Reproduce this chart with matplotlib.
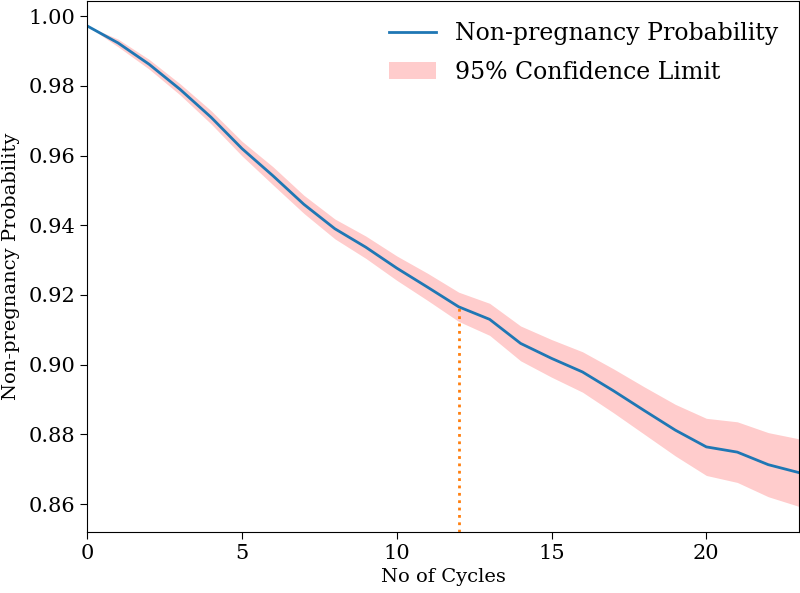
import matplotlib
matplotlib.use('Agg')
import matplotlib.pyplot as plt

plt.rcParams['font.family'] = 'DejaVu Serif'

cycles = list(range(24))
prob = [0.9972, 0.9923, 0.9862, 0.9790, 0.9710, 0.9620, 0.9542, 0.9460, 0.9390, 0.9337,
        0.9277, 0.9222, 0.9166, 0.9130, 0.9061, 0.9018, 0.8979, 0.8925, 0.8868, 0.8812,
        0.8764, 0.8749, 0.8713, 0.8690]
upper = [0.9972, 0.9934, 0.9876, 0.9806, 0.9729, 0.9641, 0.9568, 0.9486, 0.9418, 0.9369,
         0.9312, 0.9262, 0.9208, 0.9176, 0.9111, 0.9072, 0.9037, 0.8988, 0.8936, 0.8886,
         0.8846, 0.8836, 0.8805, 0.8787]
lower = [0.9972, 0.9912, 0.9848, 0.9774, 0.9691, 0.9599, 0.9516, 0.9434, 0.9361, 0.9305,
         0.9242, 0.9184, 0.9124, 0.9084, 0.9011, 0.8964, 0.8921, 0.8862, 0.8800, 0.8738,
         0.8682, 0.8662, 0.8621, 0.8593]
marker_cycle = 12

fig = plt.figure(figsize=(8, 5.93), dpi=100)
ax = fig.add_axes([0.109, 0.103, 0.89, 0.895])

ax.plot(cycles, prob, color='C0', linewidth=2, label='Non-pregnancy Probability')
ax.fill_between(cycles, lower, upper, color='red', alpha=0.2, linewidth=0,
                label='95% Confidence Limit')

ax.set_xlim(0, 23)
ax.set_ylim(0.852, 1.0043)
ax.plot([marker_cycle, marker_cycle], [ax.get_ylim()[0], prob[marker_cycle]],
        color='C1', linestyle=':', linewidth=2)

ax.set_xlabel('No of Cycles', fontsize=14)
ax.set_ylabel('Non-pregnancy Probability', fontsize=14, labelpad=6)
ax.tick_params(labelsize=15, length=5)
ax.legend(loc='upper right', frameon=False, fontsize=17, labelspacing=0.65)

fig.savefig('out.png', dpi=100)
